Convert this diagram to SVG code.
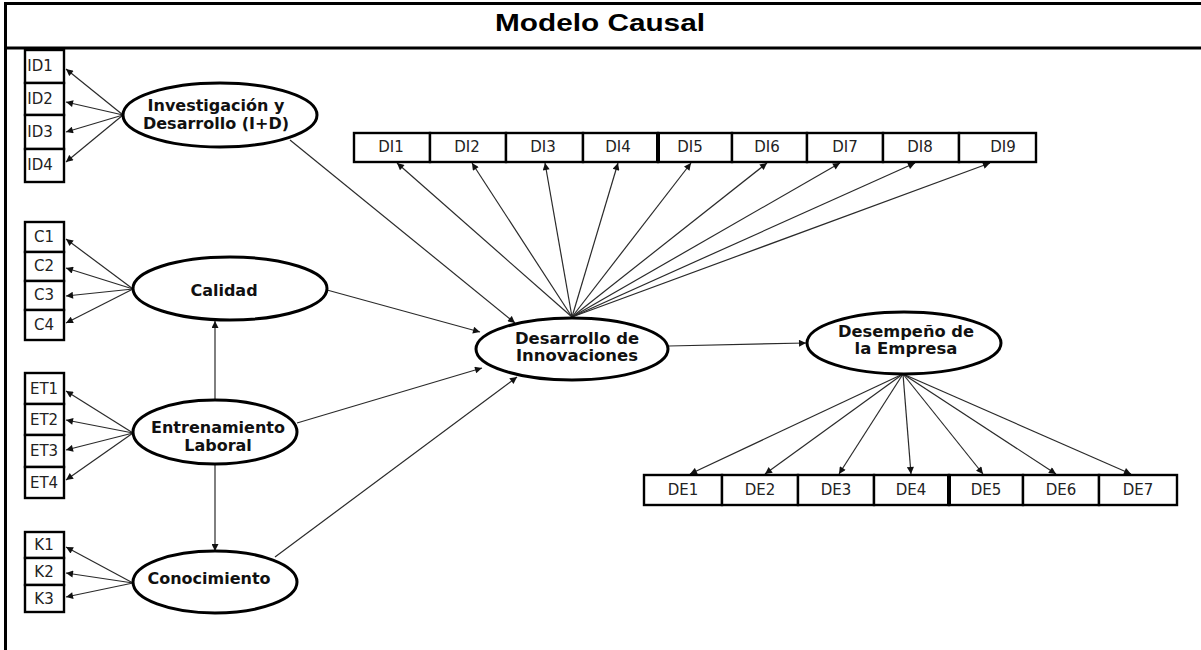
<svg xmlns="http://www.w3.org/2000/svg" width="1201" height="650" viewBox="0 0 1201 650">
  <style>
    .frame { stroke: #000; stroke-width: 3; fill: none; }
    .box { fill: #fff; stroke: #000; stroke-width: 2.4; }
    .lat { fill: #fff; stroke: #000; stroke-width: 3; }
    .lbl { font-family: "DejaVu Sans", "Liberation Sans", sans-serif; font-size: 15px; fill: #222; text-anchor: middle; }
    .lat-t { font-family: "DejaVu Sans", "Liberation Sans", sans-serif; font-weight: bold; font-size: 16px; fill: #111; text-anchor: middle; }
    .lat-s { font-size: 15px; }
    .title { font-family: "Liberation Sans", Arial, sans-serif; font-weight: bold; font-size: 23px; fill: #000; text-anchor: middle; }
    .conn line { stroke: #2a2a2a; stroke-width: 1.2; fill: none; marker-end: url(#ah); }
    .div { stroke: #000; stroke-width: 4; }
  </style>
  <defs>
    <marker id="ah" viewBox="0 0 10 10" refX="10" refY="5" markerWidth="9" markerHeight="7" markerUnits="userSpaceOnUse" orient="auto">
      <path d="M0,0 L10,5 L0,10 z" fill="#111"/>
    </marker>
  </defs>

  <rect width="1201" height="650" fill="#fff"/>

  <!-- table frame and title -->
  <g id="frame">
    <line class="frame" x1="4" y1="3.5" x2="1201" y2="3.5"/>
    <line class="frame" x1="4" y1="48" x2="1201" y2="48"/>
    <line class="frame" x1="5.5" y1="2" x2="5.5" y2="650"/>
    <text class="title" x="600" y="31" textLength="210" lengthAdjust="spacingAndGlyphs">Modelo Causal</text>
  </g>

  <!-- connectors -->
  <g id="connectors" class="conn">
    <!-- I+D indicators -->
    <line x1="123" y1="115" x2="66" y2="69"/>
    <line x1="123" y1="115" x2="66" y2="102"/>
    <line x1="123" y1="115" x2="66" y2="132"/>
    <line x1="123" y1="115" x2="66" y2="162"/>
    <!-- Calidad indicators -->
    <line x1="133" y1="289" x2="66" y2="239"/>
    <line x1="133" y1="289" x2="66" y2="268"/>
    <line x1="133" y1="289" x2="66" y2="296"/>
    <line x1="133" y1="289" x2="66" y2="323"/>
    <!-- Entrenamiento indicators -->
    <line x1="133" y1="433" x2="66" y2="391"/>
    <line x1="133" y1="433" x2="66" y2="420"/>
    <line x1="133" y1="433" x2="66" y2="450"/>
    <line x1="133" y1="433" x2="66" y2="480"/>
    <!-- Conocimiento indicators -->
    <line x1="133" y1="583" x2="66" y2="547"/>
    <line x1="133" y1="583" x2="66" y2="573"/>
    <line x1="133" y1="583" x2="66" y2="597"/>
    <!-- structural paths -->
    <line x1="215" y1="400" x2="215" y2="321"/>
    <line x1="215" y1="464" x2="215" y2="551"/>
    <line x1="290" y1="140" x2="515" y2="323"/>
    <line x1="327" y1="290" x2="480" y2="332"/>
    <line x1="297" y1="423" x2="482" y2="368"/>
    <line x1="275" y1="557" x2="517" y2="377"/>
    <line x1="669" y1="346" x2="806" y2="343"/>
    <!-- Desarrollo de Innovaciones indicators -->
    <line x1="572" y1="317" x2="397" y2="163"/>
    <line x1="572" y1="317" x2="472" y2="163"/>
    <line x1="572" y1="317" x2="545" y2="163"/>
    <line x1="572" y1="317" x2="618" y2="163"/>
    <line x1="572" y1="317" x2="691" y2="163"/>
    <line x1="572" y1="317" x2="767" y2="163"/>
    <line x1="572" y1="317" x2="840" y2="163"/>
    <line x1="572" y1="317" x2="915" y2="163"/>
    <line x1="572" y1="317" x2="990" y2="163"/>
    <!-- Desempeño indicators -->
    <line x1="903" y1="374" x2="690" y2="474"/>
    <line x1="903" y1="374" x2="765" y2="474"/>
    <line x1="903" y1="374" x2="839" y2="474"/>
    <line x1="903" y1="374" x2="911" y2="474"/>
    <line x1="903" y1="374" x2="983" y2="474"/>
    <line x1="903" y1="374" x2="1056" y2="474"/>
    <line x1="903" y1="374" x2="1131" y2="474"/>
  </g>

  <!-- latent variables -->
  <g id="investigacion">
    <ellipse class="lat" cx="220" cy="115" rx="97" ry="32"/>
    <text class="lat-t" x="216" y="111">Investigación y</text>
    <text class="lat-t" x="216" y="129">Desarrollo (I+D)</text>
  </g>
  <g id="calidad">
    <ellipse class="lat" cx="230" cy="288.5" rx="97" ry="31.5"/>
    <text class="lat-t" x="224" y="296">Calidad</text>
  </g>
  <g id="entrenamiento">
    <ellipse class="lat" cx="215" cy="432" rx="82" ry="32"/>
    <text class="lat-t" x="218" y="433">Entrenamiento</text>
    <text class="lat-t" x="218" y="451">Laboral</text>
  </g>
  <g id="conocimiento">
    <ellipse class="lat" cx="215" cy="582" rx="82" ry="31"/>
    <text class="lat-t" x="209" y="584">Conocimiento</text>
  </g>
  <g id="desarrollo">
    <ellipse class="lat" cx="572" cy="349" rx="96" ry="31"/>
    <text class="lat-t lat-s" x="577" y="343.5" textLength="124" lengthAdjust="spacingAndGlyphs">Desarrollo de</text>
    <text class="lat-t lat-s" x="577" y="361" textLength="122" lengthAdjust="spacingAndGlyphs">Innovaciones</text>
  </g>
  <g id="desempeno">
    <ellipse class="lat" cx="904" cy="343" rx="97" ry="31"/>
    <text class="lat-t lat-s" x="906" y="336.5" textLength="136" lengthAdjust="spacingAndGlyphs">Desempeño de</text>
    <text class="lat-t lat-s" x="906" y="354" textLength="103" lengthAdjust="spacingAndGlyphs">la Empresa</text>
  </g>

  <!-- I+D indicators -->
  <g id="ID1"><rect class="box" x="25" y="50" width="39" height="33"/><text class="lbl" x="40" y="71">ID1</text></g>
  <g id="ID2"><rect class="box" x="25" y="83" width="39" height="32"/><text class="lbl" x="40" y="104">ID2</text></g>
  <g id="ID3"><rect class="box" x="25" y="115" width="39" height="34"/><text class="lbl" x="40" y="137">ID3</text></g>
  <g id="ID4"><rect class="box" x="25" y="149" width="39" height="33"/><text class="lbl" x="40" y="170">ID4</text></g>

  <!-- Calidad indicators -->
  <g id="C1"><rect class="box" x="25" y="222" width="39" height="30"/><text class="lbl" x="44" y="242">C1</text></g>
  <g id="C2"><rect class="box" x="25" y="252" width="39" height="29"/><text class="lbl" x="44" y="271">C2</text></g>
  <g id="C3"><rect class="box" x="25" y="281" width="39" height="29"/><text class="lbl" x="44" y="300">C3</text></g>
  <g id="C4"><rect class="box" x="25" y="310" width="39" height="30"/><text class="lbl" x="44" y="330">C4</text></g>

  <!-- Entrenamiento indicators -->
  <g id="ET1"><rect class="box" x="25" y="373" width="39" height="31"/><text class="lbl" x="44" y="394">ET1</text></g>
  <g id="ET2"><rect class="box" x="25" y="404" width="39" height="31"/><text class="lbl" x="44" y="425">ET2</text></g>
  <g id="ET3"><rect class="box" x="25" y="435" width="39" height="32"/><text class="lbl" x="44" y="456">ET3</text></g>
  <g id="ET4"><rect class="box" x="25" y="467" width="39" height="31"/><text class="lbl" x="44" y="488">ET4</text></g>

  <!-- Conocimiento indicators -->
  <g id="K1"><rect class="box" x="25" y="532" width="39" height="26"/><text class="lbl" x="44" y="550">K1</text></g>
  <g id="K2"><rect class="box" x="25" y="558" width="39" height="27"/><text class="lbl" x="44" y="577">K2</text></g>
  <g id="K3"><rect class="box" x="25" y="585" width="39" height="27"/><text class="lbl" x="44" y="604">K3</text></g>

  <!-- Desarrollo de Innovaciones indicators -->
  <g id="DI1"><rect class="box" x="354" y="133" width="76" height="29"/><text class="lbl" x="391" y="152">DI1</text></g>
  <g id="DI2"><rect class="box" x="430" y="133" width="76" height="29"/><text class="lbl" x="467" y="152">DI2</text></g>
  <g id="DI3"><rect class="box" x="506" y="133" width="77" height="29"/><text class="lbl" x="543" y="152">DI3</text></g>
  <g id="DI4"><rect class="box" x="583" y="133" width="75" height="29"/><text class="lbl" x="618" y="152">DI4</text></g>
  <g id="DI5"><rect class="box" x="658" y="133" width="74" height="29"/><text class="lbl" x="690" y="152">DI5</text></g>
  <g id="DI6"><rect class="box" x="732" y="133" width="75" height="29"/><text class="lbl" x="767" y="152">DI6</text></g>
  <g id="DI7"><rect class="box" x="807" y="133" width="76" height="29"/><text class="lbl" x="845" y="152">DI7</text></g>
  <g id="DI8"><rect class="box" x="883" y="133" width="76" height="29"/><text class="lbl" x="920" y="152">DI8</text></g>
  <g id="DI9"><rect class="box" x="959" y="133" width="77" height="29"/><text class="lbl" x="1003" y="152">DI9</text></g>
  <line class="div" x1="658" y1="133" x2="658" y2="162"/>

  <!-- Desempeño indicators -->
  <g id="DE1"><rect class="box" x="644" y="475" width="78" height="30"/><text class="lbl" x="683" y="495">DE1</text></g>
  <g id="DE2"><rect class="box" x="722" y="475" width="76" height="30"/><text class="lbl" x="760" y="495">DE2</text></g>
  <g id="DE3"><rect class="box" x="798" y="475" width="76" height="30"/><text class="lbl" x="836" y="495">DE3</text></g>
  <g id="DE4"><rect class="box" x="874" y="475" width="75" height="30"/><text class="lbl" x="911" y="495">DE4</text></g>
  <g id="DE5"><rect class="box" x="949" y="475" width="74" height="30"/><text class="lbl" x="986" y="495">DE5</text></g>
  <g id="DE6"><rect class="box" x="1023" y="475" width="76" height="30"/><text class="lbl" x="1061" y="495">DE6</text></g>
  <g id="DE7"><rect class="box" x="1099" y="475" width="78" height="30"/><text class="lbl" x="1138" y="495">DE7</text></g>
  <line class="div" x1="949" y1="475" x2="949" y2="505"/>
</svg>
